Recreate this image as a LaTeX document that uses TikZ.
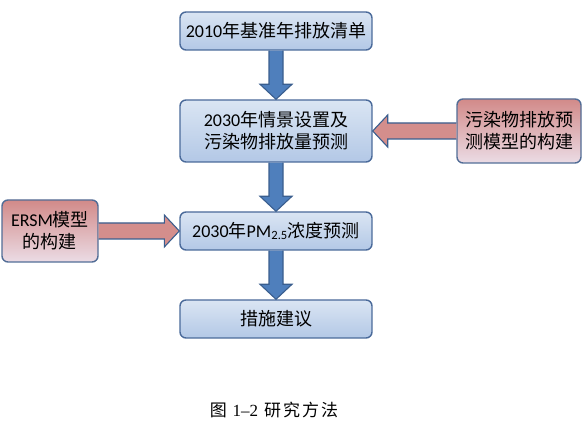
\documentclass[tikz,border=0pt]{standalone}
\usepackage{fontspec}
\setmainfont{Noto Sans CJK SC}
\newfontfamily\lat{Carlito}
\newfontfamily\capfont{Liberation Serif}
\newfontfamily\capcjk[LetterSpace=12]{Noto Sans CJK SC}
\usetikzlibrary{calc}

\definecolor{edgeblue}{HTML}{4A6A9A}
\definecolor{boxtop}{HTML}{DAE5F3}
\definecolor{boxbot}{HTML}{B3C8E6}
\definecolor{redtop}{HTML}{D28A89}
\definecolor{redbot}{HTML}{EBDCE5}
\definecolor{arrowblue}{HTML}{4F7FBC}
\definecolor{arrowedge}{HTML}{3A5E8E}
\definecolor{arrowred}{HTML}{D48E8C}

\tikzset{
  stepbox/.style={draw=edgeblue,line width=1.4pt,rounded corners=6pt,
    top color=boxtop,bottom color=boxbot,minimum width=192pt,
    minimum height=38pt,align=center,inner sep=2pt,
    font=\fontsize{18}{22}\selectfont},
  modelbox/.style={stepbox,draw=edgeblue!85!gray,top color=redtop,
    bottom color=redbot},
  downarrow/.style={fill=arrowblue,draw=arrowedge,line width=1.1pt,
    line join=miter},
  sidearrow/.style={fill=arrowred,draw=arrowedge,line width=1.1pt,
    line join=miter}
}

% block arrow pointing down, from #1.south to #2.north
\newcommand{\arrowdown}[2]{%
  \path (#1.south) coordinate (s) (#2.north) coordinate (t);
  \filldraw[downarrow] ($(s)+(-7,0)$) -- ($(t)+(-7,15)$) -- ($(t)+(-16,15)$)
    -- (t) -- ($(t)+(16,15)$) -- ($(t)+(7,15)$) -- ($(s)+(7,0)$);
}
% block arrow sideways, from #1 (anchor) to #2 (anchor), #3 = +1 left / -1 right
\newcommand{\arrowside}[3]{%
  \path (#1) coordinate (s) (#2) coordinate (t);
  \filldraw[sidearrow] ($(s|-t)+(0,8)$) -- ($(t)+({#3*15},8)$)
    -- ($(t)+({#3*15},16)$) -- (t) -- ($(t)+({#3*15},-16)$)
    -- ($(t)+({#3*15},-8)$) -- ($(s|-t)+(0,-8)$);
}

\begin{document}
\begin{tikzpicture}[x=1pt,y=1pt]
  \useasboundingbox (0,0) rectangle (584,422);
  \node[stepbox] (base) at (276,391) {{\lat 2010}年基准年排放清单};
  \node[stepbox,minimum height=62pt] (scen) at (276,291)
    {{\lat 2030}年情景设置及\\污染物排放量预测};
  \node[stepbox] (conc) at (276,191)
    {{\lat 2030}年{\lat PM\textsubscript{2.5}}浓度预测};
  \node[stepbox] (meas) at (276,103) {措施建议};
  \node[modelbox,minimum width=96pt,minimum height=62pt] (ersm) at (50,191)
    {{\lat ERSM}模型\\的构建};
  \node[modelbox,minimum width=124pt,minimum height=64pt] (emis) at (519,291)
    {污染物排放预\\测模型的构建};

  \arrowdown{base}{scen}
  \arrowdown{scen}{conc}
  \arrowdown{conc}{meas}
  \arrowside{ersm.east}{conc.west}{-1}
  \arrowside{emis.west}{scen.east}{1}

  \node[font=\fontsize{17}{20}\selectfont] (cap) at (274,12)
    {\capcjk 图 {\capfont 1–2} 研究方法};
\end{tikzpicture}
\end{document}
